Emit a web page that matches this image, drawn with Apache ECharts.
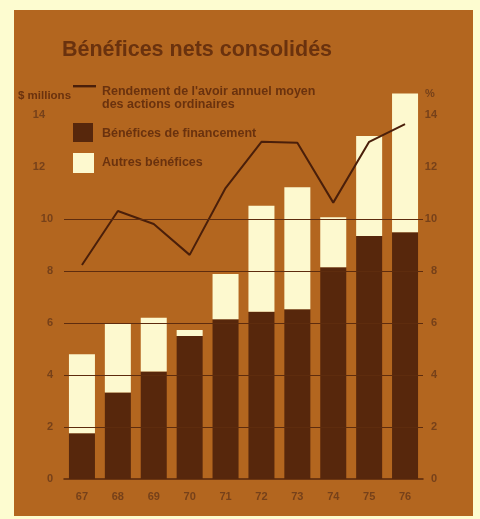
<!DOCTYPE html>
<html>
<head>
<meta charset="utf-8">
<script src="https://cdn.jsdelivr.net/npm/echarts@6/dist/echarts.min.js"></script>
<style>
  html, body { margin: 0; padding: 0; background: #fdfcd0; }
  #chart { width: 480px; height: 519px; }
</style>
</head>
<body>
<div id="chart"></div>
<script>
// Données : bénéfices (en millions de $) et rendement (%)
const years = ['67', '68', '69', '70', '71', '72', '73', '74', '75', '76'];
const beneficesFinancement = [1.76, 3.33, 4.13, 5.5, 6.14, 6.43, 6.53, 8.14, 9.35, 9.49];
const autresBenefices = [3.04, 2.66, 2.07, 0.23, 1.74, 4.08, 4.69, 1.93, 3.84, 5.34];
const rendement = [8.23, 10.31, 9.81, 8.62, 11.19, 12.97, 12.93, 10.63, 12.97, 13.65];
const gridValues = [2, 4, 6, 8, 10];

const titleText = 'Bénéfices nets consolidés';
const nameLine = ["Rendement de l'avoir annuel moyen", 'des actions ordinaires'];
const nameDark = 'Bénéfices de financement';
const nameLight = 'Autres bénéfices';
const unitLeft = '$ millions';
const unitRight = '%';

const PANEL = '#b3661f';
const DARK = '#57270c';
const LIGHT = '#fdf9cf';
const LINE = '#4a1f0a';
const TEXT = '#6a320e';
const TICK = '#76411a';
const FONT = '"Liberation Sans", Arial, sans-serif';

const chart = echarts.init(document.getElementById('chart'), null, { renderer: 'canvas' });

chart.setOption({
  backgroundColor: '#fdfcd0',
  animation: false,
  graphic: [
    { type: 'rect', z: -10, shape: { x: 14, y: 10, width: 459, height: 506 }, style: { fill: PANEL } },
    { type: 'text', left: 62, top: 39, style: { text: titleText, fill: TEXT, font: 'bold 21.5px ' + FONT } },
    // légende
    { type: 'rect', shape: { x: 73, y: 85, width: 23, height: 2.4 }, style: { fill: LINE } },
    { type: 'text', left: 102, top: 85, style: { text: nameLine.join('\n'), lineHeight: 13, fill: TEXT, font: 'bold 12.5px ' + FONT } },
    { type: 'rect', shape: { x: 73, y: 123, width: 20, height: 19 }, style: { fill: DARK } },
    { type: 'text', left: 102, top: 127, style: { text: nameDark, fill: TEXT, font: 'bold 12.5px ' + FONT } },
    { type: 'rect', shape: { x: 73, y: 153, width: 21, height: 20 }, style: { fill: LIGHT } },
    { type: 'text', left: 102, top: 156, style: { text: nameLight, fill: TEXT, font: 'bold 12.5px ' + FONT } },
    { type: 'text', left: 18, top: 90, style: { text: unitLeft, fill: TEXT, font: 'bold 11.5px ' + FONT } },
    { type: 'text', left: 425, top: 88, style: { text: unitRight, fill: TICK, font: 'bold 11px ' + FONT } }
  ],
  grid: { left: 64, right: 57, top: 115, bottom: 40 },
  xAxis: {
    type: 'category',
    data: years,
    axisLine: { show: true, lineStyle: { color: DARK, width: 1.5 } },
    axisTick: { show: false },
    axisLabel: { color: TICK, fontSize: 11, fontWeight: 'bold', margin: 12, fontFamily: FONT }
  },
  yAxis: [
    {
      type: 'value', min: 0, max: 14, interval: 2,
      axisLine: { show: false }, axisTick: { show: false }, splitLine: { show: false },
      axisLabel: {
        color: TICK, fontSize: 11, fontWeight: 'bold', margin: 11, fontFamily: FONT,
        formatter: v => v > 10 ? '{s|' + v + '}' : String(v),
        rich: { s: { padding: [0, 8, 0, 0], color: TICK, fontSize: 11, fontWeight: 'bold', fontFamily: FONT } }
      }
    },
    {
      type: 'value', min: 0, max: 14, interval: 2, position: 'right',
      axisLine: { show: false }, axisTick: { show: false }, splitLine: { show: false },
      axisLabel: { color: TICK, fontSize: 11, fontWeight: 'bold', margin: 14, align: 'right', fontFamily: FONT }
    }
  ],
  series: [
    {
      name: nameDark, type: 'bar', stack: 'benefices', data: beneficesFinancement,
      barWidth: 26, clip: false, itemStyle: { color: DARK },
      markLine: {
        silent: true, symbol: 'none', label: { show: false },
        lineStyle: { color: '#5e2c0e', width: 1, type: 'solid' },
        data: gridValues.map(v => ({ yAxis: v }))
      },
      z: 2
    },
    {
      name: nameLight, type: 'bar', stack: 'benefices', data: autresBenefices,
      barWidth: 26, clip: false, itemStyle: { color: LIGHT }, z: 3
    },
    {
      name: nameLine.join(' '), type: 'line', yAxisIndex: 1, data: rendement,
      symbol: 'none', clip: false, lineStyle: { color: LINE, width: 2 }, z: 4
    }
  ]
});
</script>
</body>
</html>
